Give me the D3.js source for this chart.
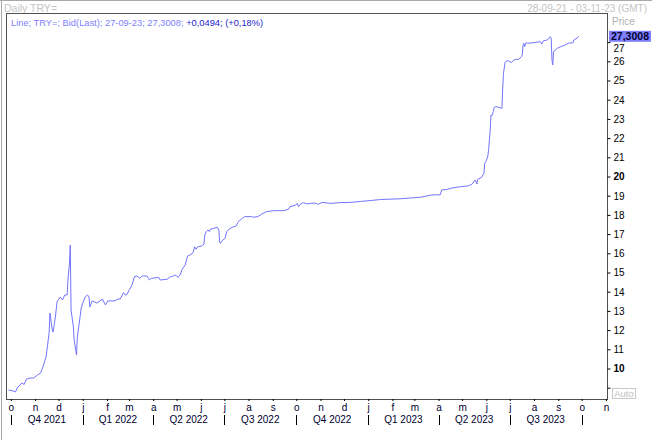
<!DOCTYPE html>
<html><head><meta charset="utf-8">
<script src="https://cdn.jsdelivr.net/npm/d3@7"></script>
<style>
html,body{margin:0;padding:0;background:#fff;}
svg{display:block;}
text{font-family:"Liberation Sans",Arial,sans-serif;}
</style></head><body>
<svg id="c" width="652" height="440"></svg>
<script>
// ---- data ----
const dates = ["2021-09-28","2021-10-04","2021-10-07","2021-10-09","2021-10-15","2021-10-18","2021-10-21","2021-10-26","2021-10-30",
"2021-11-04","2021-11-08","2021-11-11","2021-11-15","2021-11-17","2021-11-19","2021-11-20","2021-11-23","2021-11-24","2021-11-27","2021-11-29",
"2021-12-03","2021-12-06","2021-12-09","2021-12-12","2021-12-13","2021-12-15","2021-12-16","2021-12-17","2021-12-20","2021-12-21","2021-12-24","2021-12-25","2021-12-28","2021-12-30",
"2022-01-01","2022-01-04","2022-01-07","2022-01-09","2022-01-10","2022-01-13","2022-01-19","2022-01-23","2022-01-26","2022-01-30",
"2022-02-02","2022-02-11","2022-02-15","2022-02-18","2022-02-22","2022-02-24","2022-02-26",
"2022-03-02","2022-03-05","2022-03-08","2022-03-11","2022-03-15","2022-03-18","2022-03-24","2022-03-26","2022-03-27","2022-03-30",
"2022-04-06","2022-04-08","2022-04-10","2022-04-19","2022-04-23","2022-04-27","2022-04-29",
"2022-05-01","2022-05-03","2022-05-06","2022-05-08","2022-05-12","2022-05-15","2022-05-18","2022-05-22","2022-05-24","2022-05-26","2022-05-28",
"2022-06-02","2022-06-05","2022-06-06","2022-06-08","2022-06-10","2022-06-12","2022-06-13","2022-06-17","2022-06-22","2022-06-24","2022-06-25","2022-06-26","2022-06-29",
"2022-07-02","2022-07-04","2022-07-07","2022-07-11","2022-07-16","2022-07-19","2022-07-24","2022-07-27",
"2022-08-05","2022-08-07","2022-08-13","2022-08-18","2022-08-24",
"2022-09-02","2022-09-15","2022-09-21","2022-09-23","2022-09-30",
"2022-10-02","2022-10-04","2022-10-06","2022-10-10","2022-10-15","2022-10-19","2022-10-25","2022-10-29",
"2022-11-03","2022-11-14","2022-11-26","2022-12-09","2022-12-22",
"2023-01-04","2023-01-17","2023-01-29","2023-02-11","2023-02-24","2023-03-09","2023-03-22","2023-03-29",
"2023-04-03","2023-04-05","2023-04-12","2023-04-18","2023-04-29",
"2023-05-09","2023-05-14","2023-05-18","2023-05-20","2023-05-21","2023-05-26","2023-05-29","2023-05-30",
"2023-06-01","2023-06-03","2023-06-04","2023-06-05","2023-06-06","2023-06-07","2023-06-08","2023-06-10","2023-06-11","2023-06-13","2023-06-17","2023-06-21","2023-06-22","2023-06-23","2023-06-25","2023-06-27","2023-06-29",
"2023-07-03","2023-07-05","2023-07-08","2023-07-12","2023-07-14","2023-07-16","2023-07-17","2023-07-18","2023-07-19","2023-07-20","2023-07-22","2023-07-24",
"2023-08-01","2023-08-09","2023-08-11","2023-08-13","2023-08-18","2023-08-22","2023-08-23","2023-08-24","2023-08-25","2023-08-26","2023-08-28","2023-08-31",
"2023-09-04","2023-09-10","2023-09-14","2023-09-20","2023-09-21","2023-09-25","2023-09-27"];
const values = [8.88,8.83,8.78,8.98,9.24,9.17,9.45,9.50,9.50,
9.66,9.77,10.08,10.60,11.22,11.90,12.89,12.00,11.90,12.68,13.46,
13.72,13.57,13.83,13.83,14.61,15.49,16.43,13.05,12.16,11.48,10.70,11.64,12.53,13.15,
13.41,13.72,13.83,13.72,13.20,13.52,13.41,13.52,13.62,13.31,
13.52,13.52,13.62,13.62,13.95,13.83,13.83,
14.13,14.35,14.78,14.82,14.70,14.82,14.82,14.70,14.61,14.70,
14.73,14.75,14.61,14.65,14.78,14.82,14.87,
14.82,14.75,14.92,15.17,15.39,15.86,15.91,16.03,16.34,16.21,16.34,
16.38,16.48,16.95,17.13,17.21,17.13,17.25,17.30,17.35,17.21,16.60,16.52,16.69,
16.78,17.13,17.25,17.35,17.42,17.65,17.82,17.91,
17.91,17.88,17.91,18.05,18.17,
18.22,18.22,18.29,18.43,18.50,
18.60,18.43,18.55,18.64,18.57,18.60,18.62,18.55,
18.65,18.60,18.64,18.65,18.70,
18.75,18.80,18.82,18.84,18.88,18.92,19.03,19.05,
19.04,19.30,19.33,19.40,19.47,
19.51,19.61,19.82,19.61,19.85,19.96,20.17,20.69,
20.82,21.07,21.42,21.90,22.42,23.20,23.15,23.38,23.60,23.64,23.60,23.55,24.59,25.38,25.93,26.03,26.03,
25.93,26.03,26.10,26.10,26.16,26.24,26.33,26.85,26.94,26.76,26.97,26.94,
26.97,27.02,26.90,27.07,27.11,27.28,27.20,26.07,25.81,26.50,26.59,26.68,
26.76,26.85,26.94,26.97,27.11,27.20,27.3008];

const priceTicks = [9,10,11,12,13,14,15,16,17,18,19,20,21,22,23,24,25,26,27];
const boldTicks = [10,20];
const monthLetters = ["o","n","d","j","f","m","a","m","j","j","a","s","o","n","d","j","f","m","a","m","j","j","a","s","o","n"];
const quarterLabels = ["Q4 2021","Q1 2022","Q2 2022","Q3 2022","Q4 2022","Q1 2023","Q2 2023","Q3 2023"];
const headerTitle = "Daily TRY=";
const rangeStart = "28-09-21", rangeEnd = "03-11-23";
const headerRange = rangeStart + " - " + rangeEnd + " (GMT)";
const legendMain = "Line; TRY=; Bid(Last); 27-09-23; 27,3008;";
const legendChange = " +0,0494; (+0,18%)";
const lastPriceLabel = "27,3008";
const lastPrice = 27.3008;

// ---- scales ----
const parse = d3.utcParse("%Y-%m-%d");
const parseHdr = d3.utcParse("%d-%m-%y");
const data = dates.map((d,i)=>({date:parse(d), v:values[i]}));

const L=6.5, R=607.5, T=13.5, B=399;
const x = d3.scaleUtc().domain([parseHdr(rangeStart), parseHdr(rangeEnd)]).range([8.5, 607.5]);
const y = d3.scaleLinear().domain([8.4115, 28.4635]).range([B, 14]);

const svg = d3.select("#c");

// outer frame
svg.append("line").attr("x1",1.5).attr("x2",1.5).attr("y1",0).attr("y2",440).attr("stroke","#a8a8a8");
svg.append("line").attr("x1",0).attr("x2",652).attr("y1",0.5).attr("y2",0.5).attr("stroke","#a8a8a8");

// header
svg.append("text").attr("x",4).attr("y",12).attr("font-size",10.5).attr("fill","#c4c4c4").text(headerTitle);
svg.append("text").attr("x",647).attr("y",12).attr("text-anchor","end").attr("font-size",10).attr("fill","#c4c4c4").text(headerRange);

// plot box
svg.append("rect").attr("x",L).attr("y",T).attr("width",R-L).attr("height",B-T+0.5)
  .attr("fill","#fff").attr("stroke","#505050").attr("stroke-width",1);

// legend
const lg = svg.append("text").attr("x",11).attr("y",26).attr("font-size",9.3);
lg.append("tspan").attr("fill","#8080ff").text(legendMain);
lg.append("tspan").attr("fill","#1c1cd0").text(legendChange);

// line
const clip = svg.append("clipPath").attr("id","pc").append("rect").attr("x",L).attr("y",T).attr("width",R-L).attr("height",B-T);
svg.append("path").datum(data)
  .attr("clip-path","url(#pc)")
  .attr("fill","none").attr("stroke","#7373ff").attr("stroke-width",1)
  .attr("d", d3.line().x(d=>x(d.date)).y(d=>y(d.v)));

// y axis (right)
const ya = svg.append("g").attr("transform",`translate(${R},0)`)
  .call(d3.axisRight(y).tickValues(priceTicks).tickSize(3).tickPadding(3).tickFormat(d3.format("d")));
ya.select(".domain").remove();
ya.selectAll(".tick line").attr("stroke","#000");
ya.selectAll(".tick text").attr("font-family",'"Liberation Sans",Arial,sans-serif').attr("font-size",10).attr("fill","#000")
  .attr("font-weight",d=>boldTicks.includes(d)?"bold":"normal")
  .attr("dy",d=>d===27?"0.9em":"0.34em")
  .text(d=>d===9?"":d3.format("d")(d));

// Price label
svg.append("text").attr("x",612).attr("y",25).attr("font-size",10).attr("fill","#b0b0b0").text("Price");
svg.append("rect").attr("x",609).attr("y",y(lastPrice)-5.5).attr("width",42).attr("height",11).attr("fill","#8080ff");
svg.append("text").attr("x",630).attr("y",y(lastPrice)+3.8).attr("text-anchor","middle").attr("font-size",10.5)
  .attr("font-weight","bold").attr("fill","#000030").text(lastPriceLabel);

// Auto box
svg.append("rect").attr("x",612.5).attr("y",388.5).attr("width",23).attr("height",10).attr("fill","#fff").attr("stroke","#c8c8c8");
svg.append("text").attr("x",624).attr("y",397).attr("text-anchor","middle").attr("font-size",9.5).attr("fill","#c0c0c0").text("Auto");

// x axis months
const months = d3.utcMonth.range(d3.utcMonth.ceil(x.domain()[0]), x.domain()[1]);
const xa = svg.append("g").attr("transform",`translate(0,${B})`)
  .call(d3.axisBottom(x).tickValues(months).tickSize(2).tickPadding(3).tickFormat((d,i)=>monthLetters[i]));
xa.select(".domain").remove();
xa.selectAll(".tick line").attr("stroke","#000");
xa.selectAll(".tick text").attr("font-family",'"Liberation Sans",Arial,sans-serif').attr("font-size",10).attr("fill","#000030");

// quarters
const qb = d3.utcMonth.every(3).range(d3.utcMonth.ceil(x.domain()[0]), x.domain()[1]);
svg.append("g").selectAll("line").data(qb).join("line")
  .attr("x1",d=>Math.round(x(d))+0.5).attr("x2",d=>Math.round(x(d))+0.5).attr("y1",415).attr("y2",425)
  .attr("stroke","#000");
svg.append("g").selectAll("text").data(quarterLabels).join("text")
  .attr("x",(d,i)=>(x(qb[i])+x(qb[i+1]))/2).attr("y",423).attr("text-anchor","middle")
  .attr("font-size",10).attr("fill","#000030").text(d=>d);
</script>
</body></html>
